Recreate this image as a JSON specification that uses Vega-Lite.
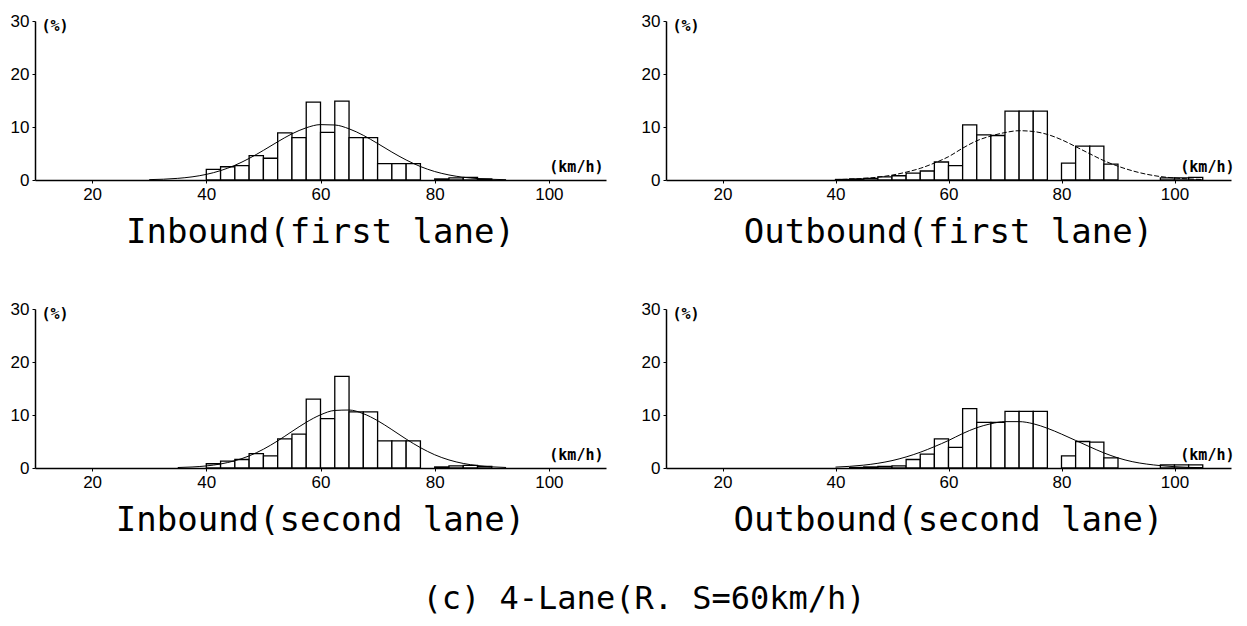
{
  "$schema": "https://vega.github.io/schema/vega-lite/v6.json",
  "background": "white",
  "padding": {"left": 10, "top": 12, "right": 5, "bottom": 5},
  "datasets": {
    "bars": [
      {"panel": "IB1", "lo": 40, "hi": 42.5, "pct": 2.0},
      {"panel": "IB1", "lo": 42.5, "hi": 45, "pct": 2.5},
      {"panel": "IB1", "lo": 45, "hi": 47.5, "pct": 2.7},
      {"panel": "IB1", "lo": 47.5, "hi": 50, "pct": 4.6},
      {"panel": "IB1", "lo": 50, "hi": 52.5, "pct": 4.1},
      {"panel": "IB1", "lo": 52.5, "hi": 55, "pct": 8.9},
      {"panel": "IB1", "lo": 55, "hi": 57.5, "pct": 8.0},
      {"panel": "IB1", "lo": 57.5, "hi": 60, "pct": 14.7},
      {"panel": "IB1", "lo": 60, "hi": 62.5, "pct": 9.0},
      {"panel": "IB1", "lo": 62.5, "hi": 65, "pct": 14.9},
      {"panel": "IB1", "lo": 65, "hi": 67.5, "pct": 8.0},
      {"panel": "IB1", "lo": 67.5, "hi": 70, "pct": 8.0},
      {"panel": "IB1", "lo": 70, "hi": 72.5, "pct": 3.1},
      {"panel": "IB1", "lo": 72.5, "hi": 75, "pct": 3.1},
      {"panel": "IB1", "lo": 75, "hi": 77.5, "pct": 3.1},
      {"panel": "IB1", "lo": 80, "hi": 82.5, "pct": 0.2},
      {"panel": "IB1", "lo": 82.5, "hi": 85, "pct": 0.4},
      {"panel": "IB1", "lo": 85, "hi": 87.5, "pct": 0.5},
      {"panel": "IB1", "lo": 87.5, "hi": 90, "pct": 0.2},

      {"panel": "OB1", "lo": 40, "hi": 42.5, "pct": 0.1},
      {"panel": "OB1", "lo": 42.5, "hi": 45, "pct": 0.2},
      {"panel": "OB1", "lo": 45, "hi": 47.5, "pct": 0.3},
      {"panel": "OB1", "lo": 47.5, "hi": 50, "pct": 0.6},
      {"panel": "OB1", "lo": 50, "hi": 52.5, "pct": 0.8},
      {"panel": "OB1", "lo": 52.5, "hi": 55, "pct": 1.3},
      {"panel": "OB1", "lo": 55, "hi": 57.5, "pct": 1.7},
      {"panel": "OB1", "lo": 57.5, "hi": 60, "pct": 3.4},
      {"panel": "OB1", "lo": 60, "hi": 62.5, "pct": 2.7},
      {"panel": "OB1", "lo": 62.5, "hi": 65, "pct": 10.4},
      {"panel": "OB1", "lo": 65, "hi": 67.5, "pct": 8.5},
      {"panel": "OB1", "lo": 67.5, "hi": 70, "pct": 8.4},
      {"panel": "OB1", "lo": 70, "hi": 72.5, "pct": 13.0},
      {"panel": "OB1", "lo": 72.5, "hi": 75, "pct": 13.0},
      {"panel": "OB1", "lo": 75, "hi": 77.5, "pct": 13.0},
      {"panel": "OB1", "lo": 80, "hi": 82.5, "pct": 3.2},
      {"panel": "OB1", "lo": 82.5, "hi": 85, "pct": 6.4},
      {"panel": "OB1", "lo": 85, "hi": 87.5, "pct": 6.4},
      {"panel": "OB1", "lo": 87.5, "hi": 90, "pct": 3.0},
      {"panel": "OB1", "lo": 97.5, "hi": 100, "pct": 0.4},
      {"panel": "OB1", "lo": 100, "hi": 102.5, "pct": 0.4},
      {"panel": "OB1", "lo": 102.5, "hi": 105, "pct": 0.5},

      {"panel": "IB2", "lo": 40, "hi": 42.5, "pct": 0.8},
      {"panel": "IB2", "lo": 42.5, "hi": 45, "pct": 1.3},
      {"panel": "IB2", "lo": 45, "hi": 47.5, "pct": 1.6},
      {"panel": "IB2", "lo": 47.5, "hi": 50, "pct": 2.7},
      {"panel": "IB2", "lo": 50, "hi": 52.5, "pct": 2.3},
      {"panel": "IB2", "lo": 52.5, "hi": 55, "pct": 5.5},
      {"panel": "IB2", "lo": 55, "hi": 57.5, "pct": 6.4},
      {"panel": "IB2", "lo": 57.5, "hi": 60, "pct": 13.0},
      {"panel": "IB2", "lo": 60, "hi": 62.5, "pct": 9.3},
      {"panel": "IB2", "lo": 62.5, "hi": 65, "pct": 17.3},
      {"panel": "IB2", "lo": 65, "hi": 67.5, "pct": 10.6},
      {"panel": "IB2", "lo": 67.5, "hi": 70, "pct": 10.6},
      {"panel": "IB2", "lo": 70, "hi": 72.5, "pct": 5.1},
      {"panel": "IB2", "lo": 72.5, "hi": 75, "pct": 5.1},
      {"panel": "IB2", "lo": 75, "hi": 77.5, "pct": 5.1},
      {"panel": "IB2", "lo": 80, "hi": 82.5, "pct": 0.2},
      {"panel": "IB2", "lo": 82.5, "hi": 85, "pct": 0.4},
      {"panel": "IB2", "lo": 85, "hi": 87.5, "pct": 0.5},
      {"panel": "IB2", "lo": 87.5, "hi": 90, "pct": 0.3},

      {"panel": "OB2", "lo": 42.5, "hi": 45, "pct": 0.1},
      {"panel": "OB2", "lo": 45, "hi": 47.5, "pct": 0.2},
      {"panel": "OB2", "lo": 47.5, "hi": 50, "pct": 0.3},
      {"panel": "OB2", "lo": 50, "hi": 52.5, "pct": 0.4},
      {"panel": "OB2", "lo": 52.5, "hi": 55, "pct": 1.6},
      {"panel": "OB2", "lo": 55, "hi": 57.5, "pct": 2.6},
      {"panel": "OB2", "lo": 57.5, "hi": 60, "pct": 5.5},
      {"panel": "OB2", "lo": 60, "hi": 62.5, "pct": 3.9},
      {"panel": "OB2", "lo": 62.5, "hi": 65, "pct": 11.2},
      {"panel": "OB2", "lo": 65, "hi": 67.5, "pct": 8.6},
      {"panel": "OB2", "lo": 67.5, "hi": 70, "pct": 8.6},
      {"panel": "OB2", "lo": 70, "hi": 72.5, "pct": 10.7},
      {"panel": "OB2", "lo": 72.5, "hi": 75, "pct": 10.7},
      {"panel": "OB2", "lo": 75, "hi": 77.5, "pct": 10.7},
      {"panel": "OB2", "lo": 80, "hi": 82.5, "pct": 2.3},
      {"panel": "OB2", "lo": 82.5, "hi": 85, "pct": 5.0},
      {"panel": "OB2", "lo": 85, "hi": 87.5, "pct": 4.9},
      {"panel": "OB2", "lo": 87.5, "hi": 90, "pct": 1.9},
      {"panel": "OB2", "lo": 97.5, "hi": 100, "pct": 0.6},
      {"panel": "OB2", "lo": 100, "hi": 102.5, "pct": 0.6},
      {"panel": "OB2", "lo": 102.5, "hi": 105, "pct": 0.6}
    ],
    "curve": [
      {"panel": "IB1", "speed": 30, "pct": 0.07},
      {"panel": "IB1", "speed": 32.5, "pct": 0.15},
      {"panel": "IB1", "speed": 35, "pct": 0.31},
      {"panel": "IB1", "speed": 37.5, "pct": 0.59},
      {"panel": "IB1", "speed": 40, "pct": 1.06},
      {"panel": "IB1", "speed": 42.5, "pct": 1.77},
      {"panel": "IB1", "speed": 45, "pct": 2.77},
      {"panel": "IB1", "speed": 47.5, "pct": 4.07},
      {"panel": "IB1", "speed": 50, "pct": 5.59},
      {"panel": "IB1", "speed": 52.5, "pct": 7.21},
      {"panel": "IB1", "speed": 55, "pct": 8.71},
      {"panel": "IB1", "speed": 57.5, "pct": 9.85},
      {"panel": "IB1", "speed": 60, "pct": 10.45},
      {"panel": "IB1", "speed": 62.5, "pct": 10.38},
      {"panel": "IB1", "speed": 65, "pct": 9.66},
      {"panel": "IB1", "speed": 67.5, "pct": 8.43},
      {"panel": "IB1", "speed": 70, "pct": 6.89},
      {"panel": "IB1", "speed": 72.5, "pct": 5.27},
      {"panel": "IB1", "speed": 75, "pct": 3.78},
      {"panel": "IB1", "speed": 77.5, "pct": 2.54},
      {"panel": "IB1", "speed": 80, "pct": 1.6},
      {"panel": "IB1", "speed": 82.5, "pct": 0.95},
      {"panel": "IB1", "speed": 85, "pct": 0.52},
      {"panel": "IB1", "speed": 87.5, "pct": 0.27},
      {"panel": "IB1", "speed": 90, "pct": 0.13},
      {"panel": "IB1", "speed": 92.5, "pct": 0.06},

      {"panel": "OB1", "speed": 40, "pct": 0.08},
      {"panel": "OB1", "speed": 42.5, "pct": 0.16},
      {"panel": "OB1", "speed": 45, "pct": 0.3},
      {"panel": "OB1", "speed": 47.5, "pct": 0.54},
      {"panel": "OB1", "speed": 50, "pct": 0.92},
      {"panel": "OB1", "speed": 52.5, "pct": 1.48},
      {"panel": "OB1", "speed": 55, "pct": 2.2},
      {"panel": "OB1", "speed": 57.5, "pct": 3.2},
      {"panel": "OB1", "speed": 60, "pct": 4.4},
      {"panel": "OB1", "speed": 62.5, "pct": 6.0},
      {"panel": "OB1", "speed": 65, "pct": 7.4},
      {"panel": "OB1", "speed": 67.5, "pct": 8.3},
      {"panel": "OB1", "speed": 70, "pct": 8.95},
      {"panel": "OB1", "speed": 72.5, "pct": 9.3},
      {"panel": "OB1", "speed": 75, "pct": 9.15},
      {"panel": "OB1", "speed": 77.5, "pct": 8.6},
      {"panel": "OB1", "speed": 80, "pct": 7.6},
      {"panel": "OB1", "speed": 82.5, "pct": 6.3},
      {"panel": "OB1", "speed": 85, "pct": 4.95},
      {"panel": "OB1", "speed": 87.5, "pct": 3.65},
      {"panel": "OB1", "speed": 90, "pct": 2.6},
      {"panel": "OB1", "speed": 92.5, "pct": 1.75},
      {"panel": "OB1", "speed": 95, "pct": 1.1},
      {"panel": "OB1", "speed": 97.5, "pct": 0.65},
      {"panel": "OB1", "speed": 100, "pct": 0.38},
      {"panel": "OB1", "speed": 102.5, "pct": 0.2},
      {"panel": "OB1", "speed": 105, "pct": 0.1},

      {"panel": "IB2", "speed": 35, "pct": 0.09},
      {"panel": "IB2", "speed": 37.5, "pct": 0.19},
      {"panel": "IB2", "speed": 40, "pct": 0.39},
      {"panel": "IB2", "speed": 42.5, "pct": 0.76},
      {"panel": "IB2", "speed": 45, "pct": 1.37},
      {"panel": "IB2", "speed": 47.5, "pct": 2.28},
      {"panel": "IB2", "speed": 50, "pct": 3.54},
      {"panel": "IB2", "speed": 52.5, "pct": 5.12},
      {"panel": "IB2", "speed": 55, "pct": 6.89},
      {"panel": "IB2", "speed": 57.5, "pct": 8.62},
      {"panel": "IB2", "speed": 60, "pct": 10.03},
      {"panel": "IB2", "speed": 62.5, "pct": 10.86},
      {"panel": "IB2", "speed": 65, "pct": 10.94},
      {"panel": "IB2", "speed": 67.5, "pct": 10.25},
      {"panel": "IB2", "speed": 70, "pct": 8.93},
      {"panel": "IB2", "speed": 72.5, "pct": 7.24},
      {"panel": "IB2", "speed": 75, "pct": 5.46},
      {"panel": "IB2", "speed": 77.5, "pct": 3.84},
      {"panel": "IB2", "speed": 80, "pct": 2.5},
      {"panel": "IB2", "speed": 82.5, "pct": 1.52},
      {"panel": "IB2", "speed": 85, "pct": 0.86},
      {"panel": "IB2", "speed": 87.5, "pct": 0.45},
      {"panel": "IB2", "speed": 90, "pct": 0.22},
      {"panel": "IB2", "speed": 92.5, "pct": 0.1},

      {"panel": "OB2", "speed": 40, "pct": 0.17},
      {"panel": "OB2", "speed": 42.5, "pct": 0.31},
      {"panel": "OB2", "speed": 45, "pct": 0.54},
      {"panel": "OB2", "speed": 47.5, "pct": 0.89},
      {"panel": "OB2", "speed": 50, "pct": 1.39},
      {"panel": "OB2", "speed": 52.5, "pct": 2.09},
      {"panel": "OB2", "speed": 55, "pct": 2.97},
      {"panel": "OB2", "speed": 57.5, "pct": 4.03},
      {"panel": "OB2", "speed": 60, "pct": 5.19},
      {"panel": "OB2", "speed": 62.5, "pct": 6.5},
      {"panel": "OB2", "speed": 65, "pct": 7.6},
      {"panel": "OB2", "speed": 67.5, "pct": 8.35},
      {"panel": "OB2", "speed": 70, "pct": 8.75},
      {"panel": "OB2", "speed": 72.5, "pct": 8.75},
      {"panel": "OB2", "speed": 75, "pct": 8.35},
      {"panel": "OB2", "speed": 77.5, "pct": 7.5},
      {"panel": "OB2", "speed": 80, "pct": 6.4},
      {"panel": "OB2", "speed": 82.5, "pct": 5.2},
      {"panel": "OB2", "speed": 85, "pct": 4.0},
      {"panel": "OB2", "speed": 87.5, "pct": 2.85},
      {"panel": "OB2", "speed": 90, "pct": 1.9},
      {"panel": "OB2", "speed": 92.5, "pct": 1.2},
      {"panel": "OB2", "speed": 95, "pct": 0.75},
      {"panel": "OB2", "speed": 97.5, "pct": 0.45},
      {"panel": "OB2", "speed": 100, "pct": 0.25},
      {"panel": "OB2", "speed": 102.5, "pct": 0.12},
      {"panel": "OB2", "speed": 105, "pct": 0.06}
    ]
  },
  "title": {"text": "(c) 4-Lane(R. S=60km/h)", "orient": "bottom", "anchor": "middle", "fontSize": 32, "offset": 46, "dx": 22, "font": "DejaVu Sans Mono", "fontWeight": "normal", "color": "black"},
  "vconcat": [
    {
      "hconcat": [
        {
          "width": 571, "height": 159,
          "title": {"text": "Inbound(first lane)", "orient": "bottom", "fontSize": 34, "offset": 14},
          "layer": [
            {"data": {"name": "bars"}, "transform": [{"filter": "datum.panel === 'IB1'"}],
             "mark": {"type": "rect", "fill": "white", "stroke": "black", "strokeWidth": 1.3},
             "encoding": {
               "x": {"field": "lo", "type": "quantitative", "scale": {"domain": [10, 110], "nice": false}, "axis": {"title": "(km/h)", "values": [20, 40, 60, 80, 100], "titleX": 568, "titleY": -6, "titleAlign": "right", "titleBaseline": "bottom"}},
               "x2": {"field": "hi"},
               "y": {"field": "pct", "type": "quantitative", "scale": {"domain": [0, 30], "nice": false}, "axis": {"title": "(%)", "values": [0, 10, 20, 30], "titleAngle": 0, "titleX": 6, "titleY": 4, "titleAlign": "left", "titleBaseline": "middle"}},
               "y2": {"datum": 0}
             }},
            {"data": {"name": "curve"}, "transform": [{"filter": "datum.panel === 'IB1'"}],
             "mark": {"type": "line", "stroke": "black", "strokeWidth": 1, "interpolate": "monotone"},
             "encoding": {
               "x": {"field": "speed", "type": "quantitative", "axis": {"title": "(km/h)"}},
               "y": {"field": "pct", "type": "quantitative", "axis": {"title": "(%)"}}
             }}
          ]
        },
        {
          "width": 565, "height": 159,
          "title": {"text": "Outbound(first lane)", "orient": "bottom", "fontSize": 34, "offset": 14},
          "layer": [
            {"data": {"name": "bars"}, "transform": [{"filter": "datum.panel === 'OB1'"}],
             "mark": {"type": "rect", "fill": "white", "stroke": "black", "strokeWidth": 1.3},
             "encoding": {
               "x": {"field": "lo", "type": "quantitative", "scale": {"domain": [10, 110], "nice": false}, "axis": {"title": "(km/h)", "values": [20, 40, 60, 80, 100], "titleX": 568, "titleY": -6, "titleAlign": "right", "titleBaseline": "bottom"}},
               "x2": {"field": "hi"},
               "y": {"field": "pct", "type": "quantitative", "scale": {"domain": [0, 30], "nice": false}, "axis": {"title": "(%)", "values": [0, 10, 20, 30], "titleAngle": 0, "titleX": 6, "titleY": 4, "titleAlign": "left", "titleBaseline": "middle"}},
               "y2": {"datum": 0}
             }},
            {"data": {"name": "curve"}, "transform": [{"filter": "datum.panel === 'OB1'"}],
             "mark": {"type": "line", "stroke": "black", "strokeWidth": 1, "strokeDash": [5, 2], "interpolate": "monotone"},
             "encoding": {
               "x": {"field": "speed", "type": "quantitative", "axis": {"title": "(km/h)"}},
               "y": {"field": "pct", "type": "quantitative", "axis": {"title": "(%)"}}
             }}
          ]
        }
      ]
    },
    {
      "hconcat": [
        {
          "width": 571, "height": 159,
          "title": {"text": "Inbound(second lane)", "orient": "bottom", "fontSize": 34, "offset": 14},
          "layer": [
            {"data": {"name": "bars"}, "transform": [{"filter": "datum.panel === 'IB2'"}],
             "mark": {"type": "rect", "fill": "white", "stroke": "black", "strokeWidth": 1.3},
             "encoding": {
               "x": {"field": "lo", "type": "quantitative", "scale": {"domain": [10, 110], "nice": false}, "axis": {"title": "(km/h)", "values": [20, 40, 60, 80, 100], "titleX": 568, "titleY": -6, "titleAlign": "right", "titleBaseline": "bottom"}},
               "x2": {"field": "hi"},
               "y": {"field": "pct", "type": "quantitative", "scale": {"domain": [0, 30], "nice": false}, "axis": {"title": "(%)", "values": [0, 10, 20, 30], "titleAngle": 0, "titleX": 6, "titleY": 4, "titleAlign": "left", "titleBaseline": "middle"}},
               "y2": {"datum": 0}
             }},
            {"data": {"name": "curve"}, "transform": [{"filter": "datum.panel === 'IB2'"}],
             "mark": {"type": "line", "stroke": "black", "strokeWidth": 1, "interpolate": "monotone"},
             "encoding": {
               "x": {"field": "speed", "type": "quantitative", "axis": {"title": "(km/h)"}},
               "y": {"field": "pct", "type": "quantitative", "axis": {"title": "(%)"}}
             }}
          ]
        },
        {
          "width": 565, "height": 159,
          "title": {"text": "Outbound(second lane)", "orient": "bottom", "fontSize": 34, "offset": 14},
          "layer": [
            {"data": {"name": "bars"}, "transform": [{"filter": "datum.panel === 'OB2'"}],
             "mark": {"type": "rect", "fill": "white", "stroke": "black", "strokeWidth": 1.3},
             "encoding": {
               "x": {"field": "lo", "type": "quantitative", "scale": {"domain": [10, 110], "nice": false}, "axis": {"title": "(km/h)", "values": [20, 40, 60, 80, 100], "titleX": 568, "titleY": -6, "titleAlign": "right", "titleBaseline": "bottom"}},
               "x2": {"field": "hi"},
               "y": {"field": "pct", "type": "quantitative", "scale": {"domain": [0, 30], "nice": false}, "axis": {"title": "(%)", "values": [0, 10, 20, 30], "titleAngle": 0, "titleX": 6, "titleY": 4, "titleAlign": "left", "titleBaseline": "middle"}},
               "y2": {"datum": 0}
             }},
            {"data": {"name": "curve"}, "transform": [{"filter": "datum.panel === 'OB2'"}],
             "mark": {"type": "line", "stroke": "black", "strokeWidth": 1, "interpolate": "monotone"},
             "encoding": {
               "x": {"field": "speed", "type": "quantitative", "axis": {"title": "(km/h)"}},
               "y": {"field": "pct", "type": "quantitative", "axis": {"title": "(%)"}}
             }}
          ]
        }
      ]
    }
  ],
  "spacing": 50,
  "config": {
    "view": {"stroke": null},
    "concat": {"spacing": 35},
    "axis": {
      "grid": false,
      "domainColor": "black",
      "domainWidth": 1.5,
      "tickColor": "black",
      "tickSize": 3,
      "labelColor": "black",
      "labelFont": "Liberation Sans",
      "labelFontSize": 17,
      "labelPadding": 3,
      "titleFont": "DejaVu Sans Mono",
      "titleFontSize": 15,
      "titleFontWeight": "bold",
      "titleColor": "black"
    },
    "title": {"font": "DejaVu Sans Mono", "fontWeight": "normal", "color": "black", "baseline": "top"}
  }
}
